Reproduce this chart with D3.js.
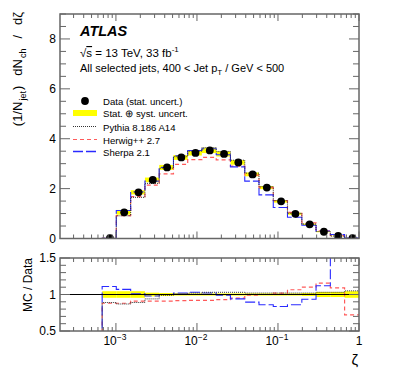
<!DOCTYPE html>
<html><head><meta charset="utf-8">
<script src="https://cdn.jsdelivr.net/npm/d3@7"></script>
<style>body{margin:0;background:#fff}svg{display:block;font-family:"Liberation Sans",Arial,Helvetica,sans-serif}</style>
</head><body><svg id="c" width="399" height="379"></svg>
<script>
// ---- data ----
const binEdges = [6.76e-4, 1.01e-3, 1.52e-3, 2.28e-3, 3.42e-3, 5.13e-3, 7.69e-3, 1.15e-2, 1.73e-2, 2.59e-2, 3.89e-2, 5.83e-2, 8.75e-2, 0.131, 0.197, 0.295, 0.443, 0.664, 1.0];
const dataValues = [0.01, 1.05, 1.85, 2.35, 2.85, 3.25, 3.43, 3.53, 3.39, 3.05, 2.57, 2.04, 1.49, 0.99, 0.57, 0.27, 0.10, 0.01];
const dataBandRel = [0.10, 0.09, 0.045, 0.04, 0.035, 0.03, 0.03, 0.03, 0.03, 0.03, 0.03, 0.03, 0.035, 0.04, 0.05, 0.07, 0.10, 0.15];
const pythiaValues = [0.009, 0.91, 1.65, 2.21, 2.82, 3.28, 3.50, 3.64, 3.49, 3.14, 2.62, 2.08, 1.52, 1.01, 0.58, 0.28, 0.10, 0.01];
const herwigValues = [0.009, 0.92, 1.68, 2.14, 2.59, 2.97, 3.16, 3.25, 3.15, 2.90, 2.54, 2.04, 1.52, 1.05, 0.63, 0.31, 0.11, 0.007];
const sherpaValues = [0.011, 1.12, 1.87, 2.30, 2.85, 3.32, 3.53, 3.60, 3.36, 2.87, 2.30, 1.75, 1.24, 0.85, 0.53, 0.30, 0.16, 0.017];
const ratioBandRel = [0.045, 0.045, 0.045, 0.025, 0.02, 0.015, 0.015, 0.015, 0.015, 0.015, 0.015, 0.015, 0.015, 0.015, 0.02, 0.035, 0.035, 0.045];
const pythiaRatio = [0.89, 0.87, 0.89, 0.94, 0.99, 1.01, 1.02, 1.03, 1.03, 1.03, 1.02, 1.02, 1.02, 1.02, 1.02, 1.03, 1.03, 1.05];
const herwigRatio = [0.88, 0.88, 0.91, 0.91, 0.91, 0.915, 0.92, 0.92, 0.93, 0.95, 0.99, 1.0, 1.02, 1.065, 1.10, 1.155, 1.09, 0.72];
const sherpaRatio = [1.11, 1.07, 1.01, 0.98, 1.0, 1.02, 1.03, 1.02, 0.99, 0.94, 0.895, 0.86, 0.835, 0.86, 0.935, 1.12, 1.6, 1.7];
const yTicksTop = [0, 2, 4, 6, 8];
const yTicksRatio = [0.5, 1, 1.5];
const yTickLabelsRatio = ["0.5", "1", "1.5"];
const xMajorTicks = [1e-3, 1e-2, 1e-1, 1];
const xMajorExp = ["−3", "−2", "−1", null];

// ---- layout ----
const L = 60, R = 359, T1 = 14, B1 = 238.5, T2 = 258, B2 = 331;
const svg = d3.select('#c');
const x = d3.scaleLog().domain([2.04e-4, 1]).range([L, R]);
const y1 = d3.scaleLinear().domain([0, 9]).range([B1, T1]);
const y2 = d3.scaleLinear().domain([0.5, 1.5]).range([B2, T2]);
const frameCol = "#666";
const colP = "#333", colH = "#ff5a5a", colS = "#2a2aff";

const defs = svg.append('defs');
defs.append('clipPath').attr('id','cp1').append('rect').attr('x',L).attr('y',T1).attr('width',R-L).attr('height',B1-T1);
defs.append('clipPath').attr('id','cp2').append('rect').attr('x',L).attr('y',T2).attr('width',R-L).attr('height',B2-T2);

const g1 = svg.append('g').attr('clip-path','url(#cp1)');
const g2 = svg.append('g').attr('clip-path','url(#cp2)');

function stepPts(vals, start){
  const pts = [];
  if (start !== undefined) pts.push([binEdges[0], start]);
  vals.forEach((v,i)=>{ pts.push([binEdges[i], v]); pts.push([binEdges[i+1], v]); });
  return pts;
}
const line1 = d3.line().x(d=>x(d[0])).y(d=>y1(d[1]));
const line2 = d3.line().x(d=>x(d[0])).y(d=>Math.max(-50, Math.min(500, y2(d[1]))));

// upper band
g1.selectAll('rect.band').data(dataValues).join('rect').attr('class','band')
  .attr('x',(d,i)=>x(binEdges[i])).attr('width',(d,i)=>x(binEdges[i+1])-x(binEdges[i]))
  .attr('y',(d,i)=>y1(d*(1+dataBandRel[i]))).attr('height',(d,i)=>y1(d*(1-dataBandRel[i]))-y1(d*(1+dataBandRel[i])))
  .attr('fill','#ffff00');
// lower band
g2.selectAll('rect.band').data(ratioBandRel).join('rect').attr('class','band')
  .attr('x',(d,i)=>x(binEdges[i])).attr('width',(d,i)=>x(binEdges[i+1])-x(binEdges[i]))
  .attr('y',d=>y2(1+d)).attr('height',d=>y2(1-d)-y2(1+d))
  .attr('fill','#ffff00');

const styles = [
  {v: herwigValues, r: herwigRatio, c: colH, dash: "4,3", w: 1.2},
  {v: sherpaValues, r: sherpaRatio, c: colS, dash: "10,3", w: 1.1},
  {v: pythiaValues, r: pythiaRatio, c: colP, dash: "1,1", w: 1},
];
styles.forEach(s=>{
  g1.append('path').attr('d', line1(stepPts(s.v, 0))).attr('fill','none').attr('stroke',s.c).attr('stroke-width',s.w).attr('stroke-dasharray',s.dash);
  g2.append('path').attr('d', line2(stepPts(s.r, 0))).attr('fill','none').attr('stroke',s.c).attr('stroke-width',s.w).attr('stroke-dasharray',s.dash);
});
// ratio = 1 line
g2.append('line').attr('x1',L).attr('x2',R).attr('y1',y2(1)).attr('y2',y2(1)).attr('stroke','#000').attr('stroke-width',1);

// data points
g1.selectAll('circle.dp').data(dataValues).join('circle').attr('class','dp')
  .attr('cx',(d,i)=>x((binEdges[i]+binEdges[i+1])/2)).attr('cy',d=>y1(d)).attr('r',3.9).attr('fill','#000');

// ---- frames & ticks ----
function frame(T,B){ svg.append('rect').attr('x',L).attr('y',T).attr('width',R-L).attr('height',B-T).attr('fill','none').attr('stroke',frameCol).attr('stroke-width',1.5); }
frame(T1,B1); frame(T2,B2);
const tk = svg.append('g').attr('stroke',frameCol).attr('stroke-width',1);
function xTicks(T,B,majB,minB,majT,minT){
  for (let d=-4; d<=0; d++) for (let k=1;k<=9;k++){
    const v = k*Math.pow(10,d); if (v < x.domain()[0] || v > 1.0001) continue;
    const px = x(v); const maj = k===1;
    tk.append('line').attr('x1',px).attr('x2',px).attr('y1',B).attr('y2',B-(maj?majB:minB));
    tk.append('line').attr('x1',px).attr('x2',px).attr('y1',T).attr('y2',T+(maj?majT:minT));
  }
}
xTicks(T1,B1,7,4,7,4);
xTicks(T2,B2,8,4,7,4);
function yTicks(ys, lo, hi, step, isMaj){
  for (let v=lo; v<=hi+1e-9; v+=step){
    const py = ys(v); const m = isMaj(v); const len = m?10:6;
    tk.append('line').attr('x1',L).attr('x2',L+len).attr('y1',py).attr('y2',py);
    tk.append('line').attr('x1',R).attr('x2',R-len).attr('y1',py).attr('y2',py);
  }
}
yTicks(y1, 0, 9, 0.5, v=>Math.abs(v/2-Math.round(v/2))<1e-6);
yTicks(y2, 0.5, 1.5, 0.1, v=>Math.abs(v*2-Math.round(v*2))<1e-6);

// ---- tick labels ----
const lab = svg.append('g').attr('font-size',12).attr('fill','#000');
yTicksTop.forEach(v=>lab.append('text').attr('x',56).attr('y',y1(v)+4.3).attr('text-anchor','end').text(v));
yTicksRatio.forEach((v,i)=>lab.append('text').attr('x',56).attr('y',y2(v)+4.3).attr('text-anchor','end').text(yTickLabelsRatio[i]));
xMajorTicks.forEach((v,i)=>{
  const t = lab.append('text').attr('y',345).attr('text-anchor','middle');
  if (xMajorExp[i]) {
    t.attr('x',x(v)-1);
    t.append('tspan').text('10');
    t.append('tspan').attr('font-size',8.5).attr('dy',-5).text(xMajorExp[i]);
  } else { t.attr('x',x(v)).text('1'); }
});
// axis titles
svg.append('text').attr('x',R-1).attr('y',365).attr('text-anchor','end').attr('font-size',15).text('ζ');
svg.append('text').attr('transform','translate(32,258) rotate(-90)').attr('text-anchor','end').attr('font-size',12).text('MC / Data');
const yt = svg.append('text').attr('transform','translate(22,12) rotate(-90)').attr('text-anchor','end').attr('font-size',13);
yt.append('tspan').text('(1/N');
yt.append('tspan').attr('font-size',9).attr('dy',3.5).attr('dx',1).text('jet');
yt.append('tspan').attr('dy',-3.5).attr('dx',1).text(')');
yt.append('tspan').attr('dx',10).text('dN');
yt.append('tspan').attr('font-size',9).attr('dy',3.5).attr('dx',1).text('ch');
yt.append('tspan').attr('dy',-3.5).attr('dx',10).text('/');
yt.append('tspan').attr('dx',10).text('dζ');

// ---- header ----
svg.append('text').attr('x',80).attr('y',36).attr('font-size',14.5).attr('font-weight','bold').attr('font-style','italic').text('ATLAS');
const h2 = svg.append('text').attr('x',80).attr('y',57).attr('font-size',11.5);
h2.append('tspan').text('√');
h2.append('tspan').attr('text-decoration','overline').text('s');
h2.append('tspan').text(' = 13 TeV, 33 fb');
h2.append('tspan').attr('font-size',8).attr('dy',-5).text('-1');
const h3 = svg.append('text').attr('x',80).attr('y',72).attr('font-size',11);
h3.append('tspan').text('All selected jets, 400 < Jet p');
h3.append('tspan').attr('font-size',8).attr('dy',3).text('T');
h3.append('tspan').attr('dy',-3).text(' / GeV < 500');

// ---- legend ----
const leg = svg.append('g').attr('font-size',9.6);
const legRows = [
  {y:101, label:'Data (stat. uncert.)', kind:'pt'},
  {y:113, label:'Stat. ⊕ syst. uncert.', kind:'band'},
  {y:126.5, label:'Pythia 8.186 A14', kind:'line', c:colP, dash:'1,1', w:1},
  {y:139.5, label:'Herwig++ 2.7', kind:'line', c:colH, dash:'4,3', w:1.2},
  {y:151.5, label:'Sherpa 2.1', kind:'line', c:colS, dash:'10,3', w:1.3},
];
legRows.forEach(r=>{
  if (r.kind==='pt') leg.append('circle').attr('cx',85).attr('cy',r.y).attr('r',3.9).attr('fill','#000');
  else if (r.kind==='band') leg.append('rect').attr('x',73).attr('y',r.y-3).attr('width',24).attr('height',6).attr('fill','#ffff00');
  else leg.append('line').attr('x1',73).attr('x2',97).attr('y1',r.y).attr('y2',r.y).attr('stroke',r.c).attr('stroke-width',r.w).attr('stroke-dasharray',r.dash);
  leg.append('text').attr('x',103).attr('y',Math.round(r.y)+3.5).text(r.label);
});
</script></body></html>
